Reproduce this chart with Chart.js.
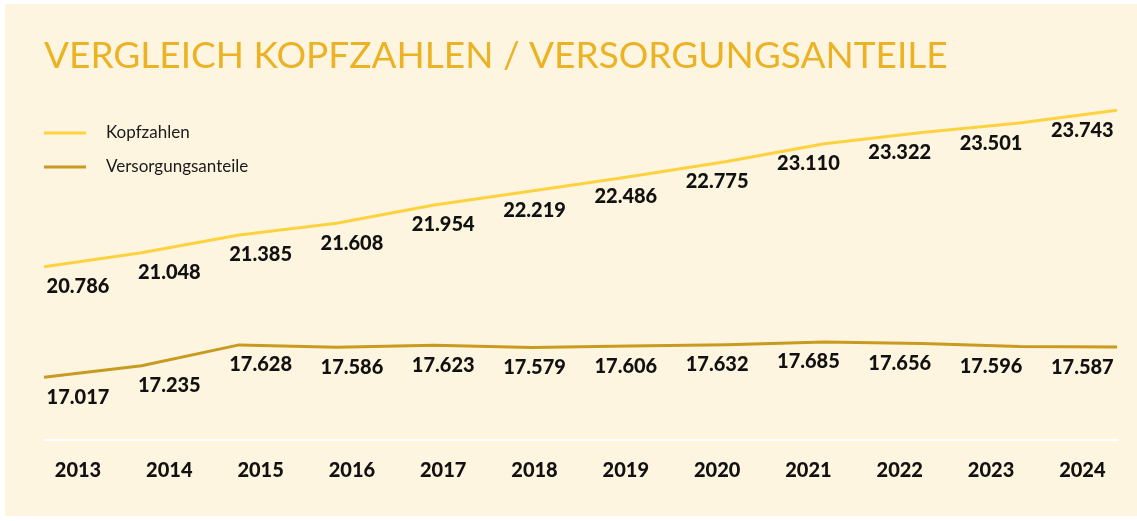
<!DOCTYPE html>
<html lang="de">
<head>
<meta charset="utf-8">
<script src="https://cdn.jsdelivr.net/npm/chart.js@4"></script>
<style>
  html, body { margin: 0; padding: 0; background: #ffffff; }
  #wrap { position: relative; width: 1137px; height: 521px; overflow: hidden; }
  #bg { position: absolute; left: 5px; top: 4px; width: 1132px; height: 512px; background: #fef5e0; }
  #chart { position: absolute; left: 0; top: 0; }
</style>
</head>
<body>
<div id="wrap">
  <div id="bg"></div>
  <canvas id="chart" width="1137" height="521"></canvas>
</div>
<script>
// Daten
const jahre = ['2013', '2014', '2015', '2016', '2017', '2018', '2019', '2020', '2021', '2022', '2023', '2024'];
const kopfzahlen = [20786, 21048, 21385, 21608, 21954, 22219, 22486, 22775, 23110, 23322, 23501, 23743];
const versorgungsanteile = [17017, 17235, 17628, 17586, 17623, 17579, 17606, 17632, 17685, 17656, 17596, 17587];

const FONT = "Lato, 'Open Sans', sans-serif";

// Zahl im deutschen Format (Tausenderpunkt)
function formatDe(v) {
    return String(v).replace(/\B(?=(\d{3})+(?!\d))/g, '.');
}

// Werte unter den Linien
const wertePlugin = {
    id: 'werte',
    afterDatasetsDraw(chart) {
        const ctx = chart.ctx;
        const xAchse = chart.scales.x2;
        ctx.save();
        ctx.font = '900 20px ' + FONT;
        ctx.fillStyle = '#111111';
        ctx.textAlign = 'center';
        ctx.textBaseline = 'middle';
        chart.data.datasets.forEach(ds => {
            const yAchse = chart.scales[ds.yAxisID];
            ds.data.forEach((p, i) => {
                const x = xAchse.getPixelForValue(i);
                const y = yAchse.getPixelForValue(p.y) + 20;
                ctx.fillText(formatDe(p.y), x, y);
            });
        });
        ctx.restore();
    }
};

// Legende oben links
const legendePlugin = {
    id: 'legende',
    afterDraw(chart) {
        const ctx = chart.ctx;
        const left = chart.chartArea.left;
        ctx.save();
        ctx.font = '17px ' + FONT;
        ctx.textBaseline = 'middle';
        chart.data.datasets.forEach((ds, i) => {
            const y = 133 + i * 34;
            ctx.strokeStyle = ds.borderColor;
            ctx.lineWidth = 3;
            ctx.beginPath();
            ctx.moveTo(left, y);
            ctx.lineTo(left + 42, y);
            ctx.stroke();
            ctx.fillStyle = '#1a1a1a';
            ctx.fillText(ds.label, left + 62, y);
        });
        ctx.restore();
    }
};

const toPoints = arr => arr.map((v, i) => ({ x: i, y: v }));

new Chart(document.getElementById('chart'), {
    type: 'line',
    data: {
        datasets: [{
            label: 'Kopfzahlen',
            data: toPoints(kopfzahlen),
            borderColor: '#fdd23e',
            borderWidth: 3,
            pointRadius: 0,
            tension: 0,
            xAxisID: 'x',
            yAxisID: 'y'
        }, {
            label: 'Versorgungsanteile',
            data: toPoints(versorgungsanteile),
            borderColor: '#c89a1f',
            borderWidth: 3,
            pointRadius: 0,
            tension: 0,
            xAxisID: 'x',
            yAxisID: 'y2'
        }]
    },
    options: {
        responsive: false,
        animation: false,
        layout: { padding: { left: 44, right: 20, top: 0, bottom: 19 } },
        plugins: {
            legend: { display: false },
            tooltip: { enabled: false },
            title: {
                display: true,
                text: 'VERGLEICH KOPFZAHLEN / VERSORGUNGSANTEILE',
                align: 'start',
                color: '#ebb324',
                font: { family: FONT, size: 37, weight: 'normal' },
                padding: { top: 34, bottom: 21 }
            }
        },
        scales: {
            x: {
                type: 'linear',
                display: false,
                min: 0,
                max: 11
            },
            x2: {
                type: 'linear',
                position: 'bottom',
                min: -0.3724,
                max: 11.3796,
                afterBuildTicks(axis) {
                    axis.ticks = jahre.map((j, i) => ({ value: i }));
                },
                grid: { display: false, drawTicks: false },
                border: { display: true, color: '#ffffff', width: 2 },
                ticks: {
                    padding: 19,
                    color: '#111111',
                    font: { family: FONT, size: 20, weight: '900' },
                    callback: (v) => jahre[v]
                }
            },
            y: {
                display: false,
                min: 17509,
                max: 23949
            },
            y2: {
                display: false,
                min: 15830,
                max: 22270
            }
        }
    },
    plugins: [wertePlugin, legendePlugin]
});
</script>
</body>
</html>
